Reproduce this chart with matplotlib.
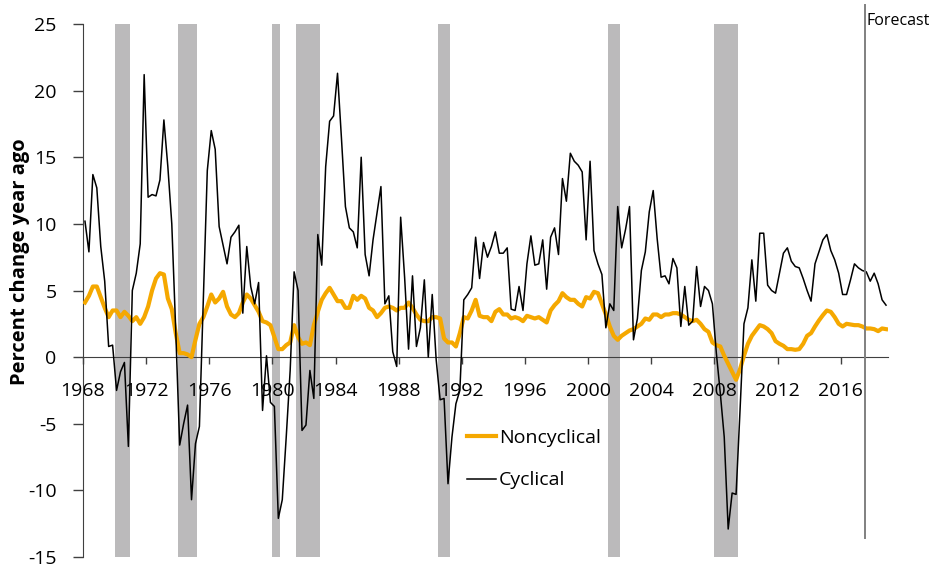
"""
Cyclical vs noncyclical spending, percent change year ago
"""

import numpy as np
import matplotlib
matplotlib.use("Agg")
import matplotlib.pyplot as plt

plt.rcParams['font.family'] = ['Open Sans', 'DejaVu Sans']
plt.rcParams['axes.unicode_minus'] = False

# quarterly data, 1968Q1 .. 2018Q4
start_year = 1968
cyclical = [
    10.2, 7.9, 13.7, 12.7, 8.3, 5.7, 0.8, 0.9, -2.5, -1.1, -0.4, -6.7,
    5.0, 6.3, 8.5, 21.2, 12.0, 12.2, 12.1, 13.3, 17.8, 14.3, 10.0, 2.0,
    -6.6, -5.0, -3.6, -10.7, -6.5, -5.2, 4.5, 14.0, 17.0, 15.6, 9.8, 8.4,
    7.0, 9.0, 9.4, 9.9, 3.3, 8.3, 5.3, 4.0, 5.6, -4.0, 0.1, -3.4,
    -3.7, -12.1, -10.7, -6.0, -1.0, 6.4, 5.0, -5.5, -5.1, -1.0, -3.1, 9.2,
    6.9, 14.3, 17.7, 18.1, 21.3, 16.4, 11.3, 9.7, 9.4, 8.2, 15.0, 7.7,
    6.1, 8.8, 10.8, 12.8, 4.0, 4.6, 0.4, -0.7, 10.5, 6.0, 0.6, 6.1,
    0.8, 2.2, 5.8, 0.0, 4.7, -0.2, -3.2, -3.1, -9.5, -6.0, -3.5, -2.5,
    4.3, 4.7, 5.2, 9.0, 5.9, 8.6, 7.5, 8.3, 9.4, 7.8, 7.8, 8.2,
    3.6, 3.5, 5.3, 3.5, 7.0, 9.1, 6.9, 7.0, 8.8, 5.1, 9.0, 9.7,
    7.7, 13.4, 11.7, 15.3, 14.7, 14.4, 13.9, 8.8, 14.7, 8.0, 7.0, 6.2,
    2.2, 4.0, 3.5, 11.3, 8.2, 9.6, 11.3, 1.3, 2.9, 6.5, 7.9, 10.9,
    12.5, 8.9, 6.0, 6.1, 5.5, 7.4, 6.7, 2.3, 5.3, 2.4, 2.7, 6.8,
    3.8, 5.3, 5.0, 4.0, 0.3, -2.7, -6.0, -12.9, -10.2, -10.3, -4.0, 2.5,
    3.7, 7.3, 4.2, 9.3, 9.3, 5.4, 5.0, 4.8, 6.3, 7.8, 8.2, 7.2,
    6.8, 6.7, 5.9, 5.0, 4.2, 7.0, 7.9, 8.8, 9.2, 8.0, 7.3, 6.3,
    4.7, 4.7, 5.8, 7.0, 6.7, 6.5, 6.4, 5.7, 6.3, 5.5, 4.3, 3.9,
]
noncyclical = [
    4.1, 4.6, 5.3, 5.3, 4.5, 3.7, 3.0, 3.5, 3.5, 3.0, 3.4, 3.1,
    2.7, 3.0, 2.5, 3.0, 3.8, 5.0, 5.9, 6.3, 6.2, 4.4, 3.6, 1.8,
    0.3, 0.3, 0.2, 0.0, 1.3, 2.5, 3.0, 3.8, 4.7, 4.1, 4.4, 4.9,
    3.8, 3.2, 3.0, 3.3, 4.1, 4.7, 4.4, 3.9, 3.4, 2.7, 2.6, 2.4,
    1.5, 0.6, 0.6, 0.9, 1.1, 2.4, 1.5, 1.0, 1.1, 0.9, 2.4, 3.4,
    4.3, 4.8, 5.2, 4.7, 4.2, 4.2, 3.7, 3.7, 4.6, 4.3, 4.6, 4.4,
    3.7, 3.5, 3.0, 3.3, 3.7, 3.8, 3.7, 3.5, 3.7, 3.7, 4.1, 3.7,
    3.2, 2.8, 2.7, 2.7, 3.0, 3.0, 2.9, 1.4, 1.1, 1.1, 0.8, 1.8,
    3.0, 2.9, 3.5, 4.3, 3.1, 3.0, 3.0, 2.7, 3.4, 3.6, 3.2, 3.2,
    2.9, 3.0, 2.9, 2.7, 3.1, 3.0, 2.9, 3.0, 2.8, 2.6, 3.5, 3.9,
    4.2, 4.8, 4.5, 4.3, 4.3, 4.0, 3.8, 4.5, 4.4, 4.9, 4.8, 4.0,
    3.2, 2.3, 1.6, 1.3, 1.6, 1.8, 2.0, 2.1, 2.3, 2.5, 2.9, 2.8,
    3.2, 3.2, 3.0, 3.2, 3.2, 3.3, 3.3, 3.2, 3.0, 2.8, 2.7, 2.8,
    2.5, 2.1, 1.9, 1.1, 0.9, 0.8, 0.1, -0.5, -1.1, -1.7, -0.9, 0.1,
    1.0, 1.6, 2.0, 2.4, 2.3, 2.1, 1.8, 1.2, 1.0, 0.85, 0.6, 0.6,
    0.55, 0.6, 1.0, 1.6, 1.8, 2.3, 2.75, 3.15, 3.5, 3.4, 3.0, 2.5,
    2.3, 2.5, 2.45, 2.4, 2.4, 2.3, 2.15, 2.15, 2.1, 1.95, 2.15, 2.1,
]
recessions = [(1970.0, 1971.0), (1974.0, 1975.2), (1980.0, 1980.5),
              (1981.5, 1983.0), (1990.5, 1991.25), (2001.25, 2002.0),
              (2008.0, 2009.5)]
forecast_start = 2017.55
year_ticks = list(range(1968, 2017, 4))
y_ticks = list(range(-15, 26, 5))

# points sit in the middle of each quarter
dates = start_year + (np.arange(len(cyclical)) + 0.5) * 0.25

fig = plt.figure(figsize=(9.37, 5.67), dpi=100)
ax = fig.add_axes([83 / 937, 1 - 557 / 567, 805 / 937, 533 / 567])

for a, b in recessions:
    ax.axvspan(a, b, color='#bbbabb', lw=0, zorder=0)

ax.plot(dates, noncyclical, color='#f5a800', lw=3.0, label='Noncyclical', zorder=3)
ax.plot(dates, cyclical, color='black', lw=1.1, label='Cyclical', zorder=4)

# forecast marker
ax.plot([forecast_start, forecast_start], [-13.6, 26.4], color='#808080',
        lw=1.4, clip_on=False, zorder=5)
ax.text(forecast_start + 0.1, 25.2, 'Forecast', fontsize=11.5, ha='left',
        va='center', clip_on=False)

ax.set_xlim(start_year, start_year + len(cyclical) * 0.25)
ax.set_ylim(-15, 25)
ax.set_xticks(year_ticks)
ax.set_yticks(y_ticks)
ax.tick_params(axis='x', labelsize=14, length=5, width=1, color='#404040', pad=13)
ax.tick_params(axis='y', labelsize=14, length=7, width=1, color='#404040', pad=12)

for side in ['top', 'right']:
    ax.spines[side].set_visible(False)
ax.spines['bottom'].set_position(('data', 0))
ax.spines['bottom'].set_color('#404040')
ax.spines['left'].set_color('#404040')

fig.text(20 / 937, 1 - 262 / 567, 'Percent change year ago', rotation=90,
         ha='center', va='center', fontsize=14.5, fontweight='bold')

ax.legend(loc='upper left', bbox_to_anchor=(467 / 937, 1 - 429 / 567),
          bbox_transform=fig.transFigure, frameon=False, fontsize=14,
          handlelength=1.5, handletextpad=0.15, labelspacing=1.25,
          borderpad=0, borderaxespad=0)

fig.savefig('out.png', dpi=100)
